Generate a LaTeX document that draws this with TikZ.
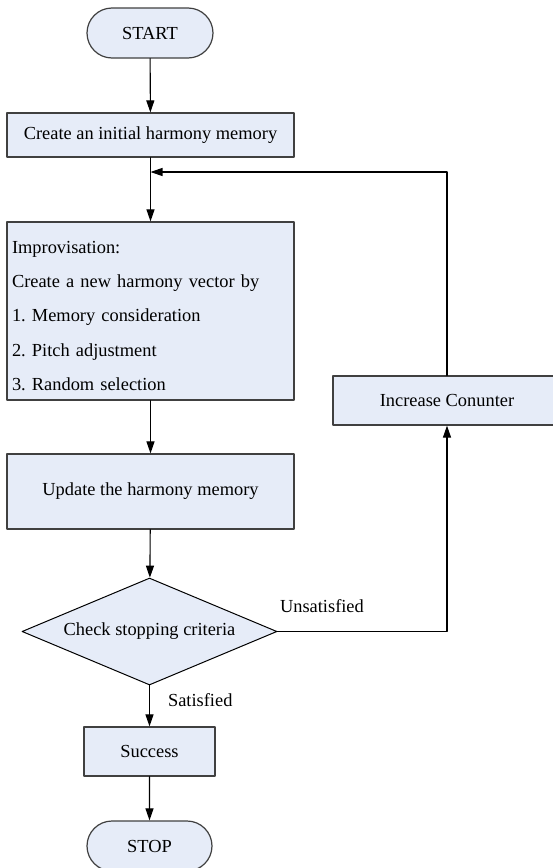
\documentclass[tikz,border=0pt]{standalone}
\usepackage{fontspec}
\setmainfont{Liberation Serif}
\usetikzlibrary{arrows.meta}
\usetikzlibrary{shapes.geometric}
\usetikzlibrary{shapes.misc}
\definecolor{boxfill}{RGB}{230,236,248}
\definecolor{boxline}{RGB}{64,64,64}
\frenchspacing
\begin{document}
\begin{tikzpicture}[line cap=round,line join=round,>={Triangle[length=6pt,width=4pt]},x=0.5pt,y=-0.5pt,
  every node/.style={font=\fontsize{9.2}{17.1}\selectfont},
  proc/.style={draw=boxline,fill=boxfill,line width=0.6pt,rectangle,inner sep=0pt},
  term/.style={draw=boxline,fill=boxfill,line width=0.6pt,rounded rectangle,inner sep=0pt},
  decide/.style={draw=black,fill=boxfill,line width=0.5pt,diamond,aspect=2.4,inner sep=0pt},
  flow/.style={->,line width=0.55pt}]
\useasboundingbox (0,0) rectangle (552,868);
% main column
\node [term,minimum width=63pt,minimum height=25pt] (start) at (150,33) {START};
\node [proc,minimum width=143.5pt,minimum height=22pt] (init) at (150.5,135) {Create an initial harmony memory};
\node [proc,minimum width=143.5pt,minimum height=89pt,inner xsep=2.5pt,text width=138.5pt,align=left] (improv) at (150.5,311) {\rule{0pt}{11pt}Improvisation:\\Create a new harmony vector by\\1. Memory consideration\\2. Pitch adjustment\\3. Random selection};
\node [proc,minimum width=143.5pt,minimum height=37.5pt] (update) at (150.5,491.5) {Update the harmony memory};
\node [decide,minimum width=127.5pt,minimum height=53.5pt] (check) at (149.5,631.5) {Check stopping criteria};
\node [proc,minimum width=65.5pt,minimum height=24.5pt] (success) at (149.5,751.5) {Success};
\node [term,minimum width=62.5pt,minimum height=25pt] (stop) at (149.5,846) {STOP};
% side branch
\node [proc,minimum width=114pt,minimum height=24.5pt] (counter) at (447,400.5) {Increase Conunter};
\coordinate (loop) at (150.5,172);
% connectors
\draw [flow] (start) -- (init);
\draw [flow] (init) -- (improv);
\draw [flow] (improv) -- (update);
\draw [flow] (update) -- (check);
\draw [flow] (check) -- node[pos=0.36,anchor=west,inner sep=0pt,xshift=9pt] (sat) {Satisfied} (success);
\draw [flow] (success) -- (stop);
\draw [flow] (check.east) -| node[pos=0,anchor=west,inner sep=0pt,xshift=1pt,yshift=12.5pt] (unsat) {Unsatisfied} (counter.south);
\draw [flow] (counter.north) |- (loop);
\end{tikzpicture}
\end{document}
